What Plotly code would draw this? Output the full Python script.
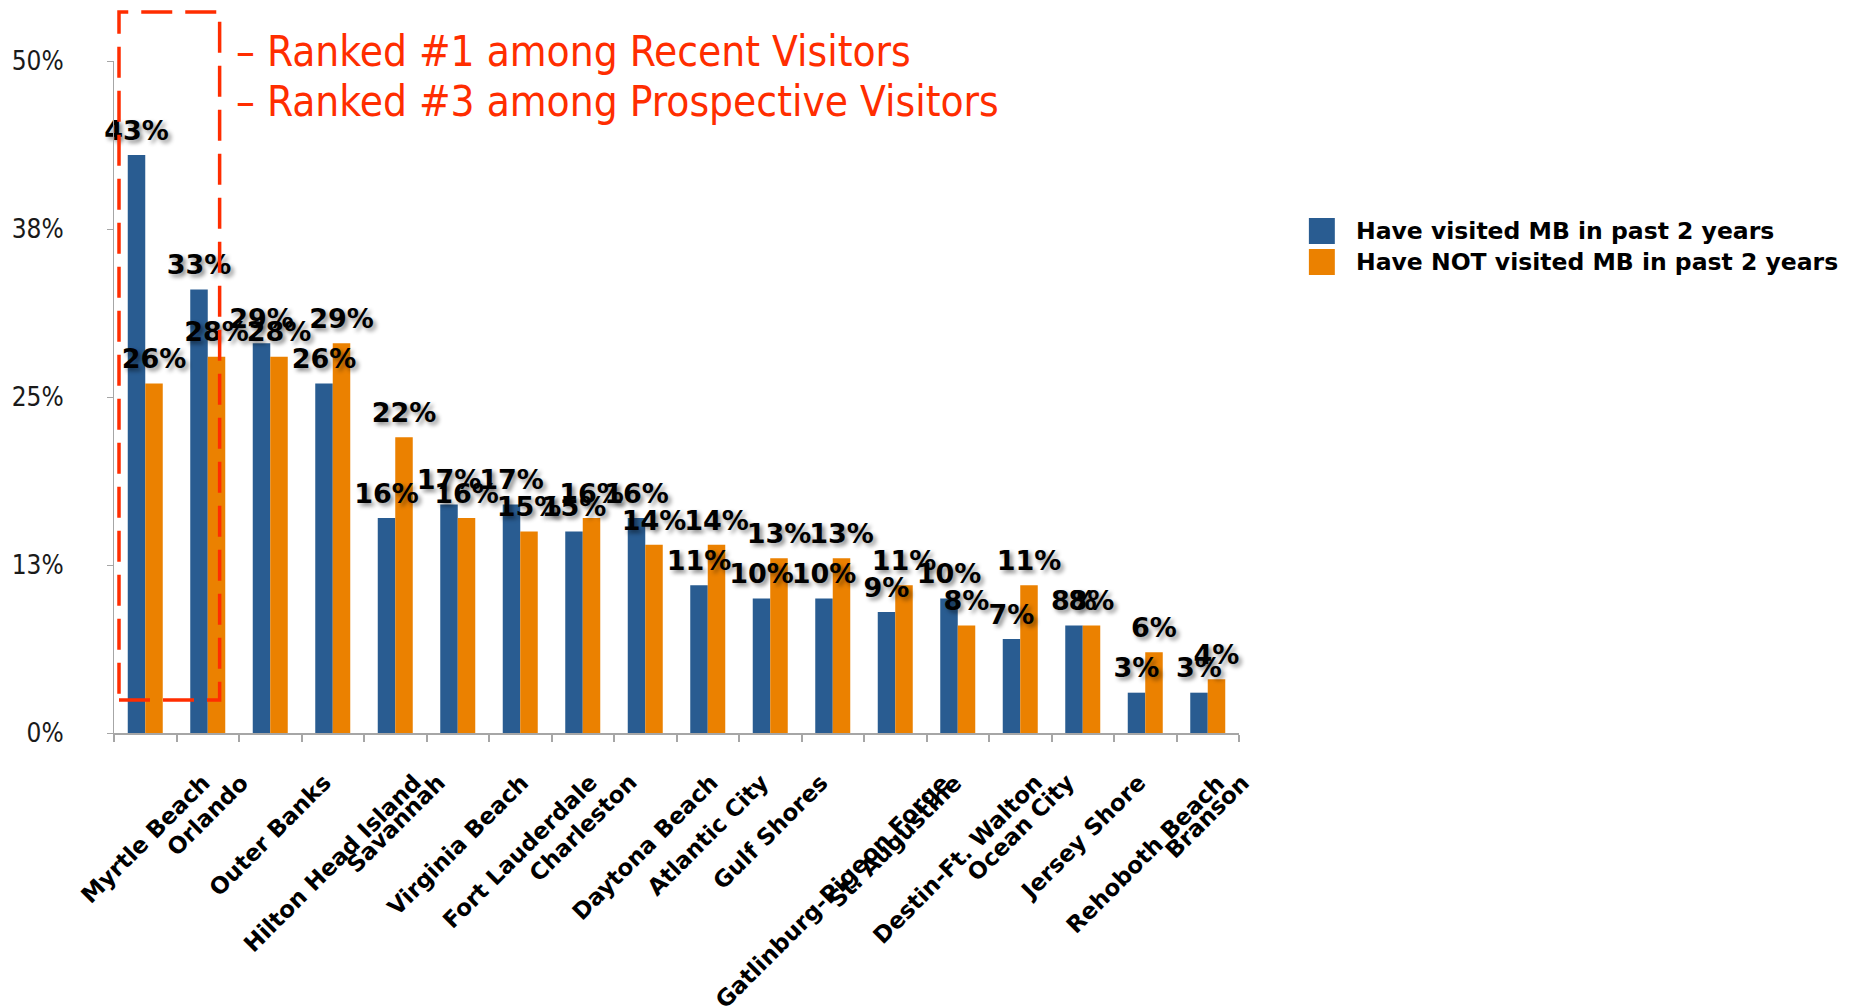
import plotly.graph_objects as go

# Destinations, in ranked order
destinations = [
    "Myrtle Beach", "Orlando", "Outer Banks", "Hilton Head Island", "Savannah",
    "Virginia Beach", "Fort Lauderdale", "Charleston", "Daytona Beach",
    "Atlantic City", "Gulf Shores", "Gatlinburg-Pigeon Forge", "St. Augustine",
    "Destin-Ft. Walton", "Ocean City", "Jersey Shore", "Rehoboth Beach", "Branson",
]

# Share of respondents (%) by group
visited_recent = [43, 33, 29, 26, 16, 17, 17, 15, 16, 11, 10, 10, 9, 10, 7, 8, 3, 3]
not_visited = [26, 28, 28, 29, 22, 16, 15, 16, 14, 14, 13, 13, 11, 8, 11, 8, 6, 4]

series_names = ["Have visited MB in past 2 years", "Have NOT visited MB in past 2 years"]

y_tickvals = [0, 12.5, 25, 37.5, 50]
y_ticktext = ["0%", "13%", "25%", "38%", "50%"]

callout_lines = ["– Ranked #1 among Recent Visitors", "– Ranked #3 among Prospective Visitors"]

BLUE = "#295C91"
ORANGE = "#EB8100"
RED = "#FF2D00"
BAR_W = 0.28

W, H = 1854, 1007
M_L, M_R, M_T, M_B = 112, 615, 61, 274
PLOT_W = W - M_L - M_R
PLOT_H = H - M_T - M_B


def px_x(p):
    return (p - M_L) / PLOT_W


def px_y(p):
    return (H - M_B - p) / PLOT_H


idx = list(range(len(destinations)))

fig = go.Figure()

fig.add_trace(go.Bar(
    x=idx, y=visited_recent, name=series_names[0],
    offset=-BAR_W, width=BAR_W, marker=dict(color=BLUE, line=dict(width=0)),
    showlegend=False, hoverinfo="skip",
))
fig.add_trace(go.Bar(
    x=idx, y=not_visited, name=series_names[1],
    offset=0, width=BAR_W, marker=dict(color=ORANGE, line=dict(width=0)),
    showlegend=False, hoverinfo="skip",
))

# value labels above each bar, with a soft drop shadow
label_font = dict(family="DejaVu Sans", size=27, color="#000000",
                  weight="bold", shadow="3px 3px 4px rgba(0,0,0,0.45)")
for vals, shift in ((visited_recent, -BAR_W / 2), (not_visited, BAR_W / 2)):
    fig.add_trace(go.Scatter(
        x=[i + shift for i in idx], y=vals,
        mode="markers+text",
        text=[f"{v}%" for v in vals],
        textposition="top center",
        textfont=label_font,
        marker=dict(size=12, color="rgba(0,0,0,0)"),
        cliponaxis=False, showlegend=False, hoverinfo="skip",
    ))

annotations = []

# category labels, rotated, hanging below the axis
for i, name in enumerate(destinations):
    annotations.append(dict(
        x=i, y=-0.05, xref="x", yref="paper",
        text=name, showarrow=False, textangle=-45,
        xanchor="center", yanchor="top",
        font=dict(family="DejaVu Sans", size=23, color="#000000", weight="bold"),
    ))

# callout text
for line, ypx in zip(callout_lines, (51, 101)):
    annotations.append(dict(
        x=px_x(232), y=px_y(ypx), xref="paper", yref="paper",
        text=line, showarrow=False, xanchor="left", yanchor="middle",
        font=dict(family="DejaVu Sans Condensed, DejaVu Sans", size=42, color=RED),
    ))

# legend
shapes = []
for name, color, ypx in zip(series_names, (BLUE, ORANGE), (231, 262)):
    shapes.append(dict(
        type="rect", xref="paper", yref="paper",
        x0=px_x(1309), x1=px_x(1335), y0=px_y(ypx - 13), y1=px_y(ypx + 13),
        fillcolor=color, line=dict(width=0),
    ))
    annotations.append(dict(
        x=px_x(1354), y=px_y(ypx), xref="paper", yref="paper",
        text=name, showarrow=False, xanchor="left", yanchor="middle",
        font=dict(family="DejaVu Sans", size=23.5, color="#000000", weight="bold"),
    ))

# dashed highlight box around the first destination
shapes.append(dict(
    type="rect", xref="x", yref="paper", layer="above",
    x0=-0.42, x1=1.19, y0=px_y(700), y1=px_y(12),
    line=dict(color=RED, width=3.5, dash="31px,13px"),
    fillcolor="rgba(0,0,0,0)",
))

fig.update_layout(
    width=W, height=H,
    margin=dict(l=M_L, r=M_R, t=M_T, b=M_B, pad=0),
    paper_bgcolor="#FFFFFF", plot_bgcolor="#FFFFFF",
    barmode="overlay",
    showlegend=False,
    annotations=annotations,
    shapes=shapes,
    xaxis=dict(
        range=[-0.5, len(destinations) - 0.5],
        tickvals=[i - 0.5 for i in range(len(destinations) + 1)],
        showticklabels=False, ticks="outside", ticklen=7, tickwidth=1.5,
        tickcolor="#A6A6A6", showline=True, linecolor="#A6A6A6", linewidth=1.5,
        showgrid=False, zeroline=False, fixedrange=True,
    ),
    yaxis=dict(
        range=[0, 50], tickvals=y_tickvals, ticktext=y_ticktext,
        ticks="outside", ticklen=6, tickwidth=1, tickcolor="#A6A6A6",
        showline=True, linecolor="#A6A6A6", linewidth=1.2,
        showgrid=False, zeroline=False, fixedrange=True,
        ticklabelstandoff=38,
        tickfont=dict(family="DejaVu Sans Condensed, DejaVu Sans", size=26, color="#1A1A1A"),
    ),
)

fig.write_html("out.html")
